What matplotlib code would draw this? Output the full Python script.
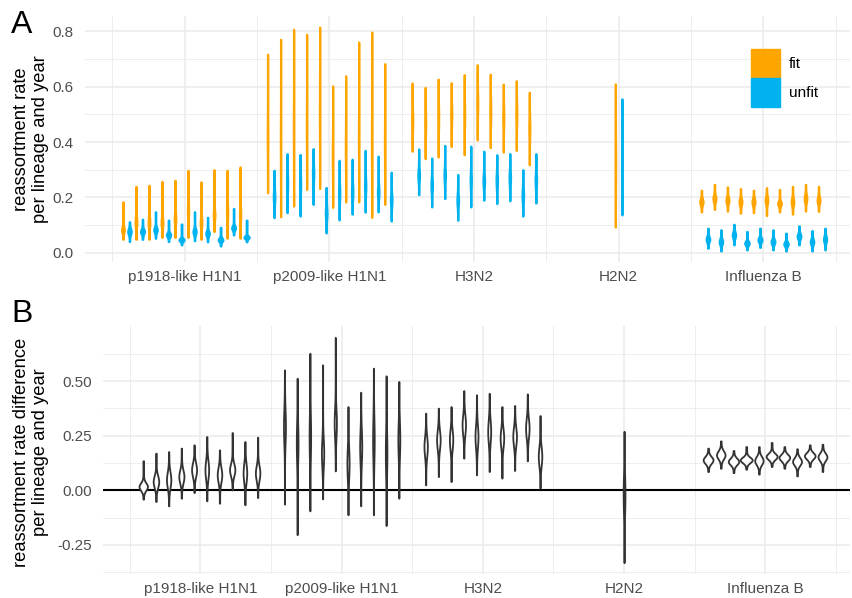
import numpy as np
import matplotlib
matplotlib.use("Agg")
import matplotlib.pyplot as plt
from matplotlib.patches import Patch
from matplotlib.ticker import FixedLocator

plt.rcParams['font.family'] = ['Liberation Sans', 'DejaVu Sans']

lineages = ["p1918-like H1N1", "p2009-like H1N1", "H3N2", "H2N2", "Influenza B"]

# Panel A: reassortment rate per run (lower end, bulk, upper end of each violin)
fit_lo = [[0.049, 0.049, 0.049, 0.056, 0.056, 0.056, 0.049, 0.077, 0.053, 0.053],
          [0.217, 0.130, 0.169, 0.229, 0.232, 0.164, 0.184, 0.184, 0.128, 0.175],
          [0.367, 0.340, 0.346, 0.384, 0.354, 0.408, 0.380, 0.364, 0.370, 0.318],
          [0.093],
          [0.148, 0.157, 0.151, 0.143, 0.145, 0.135, 0.148, 0.140, 0.151, 0.150]]
fit_mid = [[0.083, 0.110, 0.110, 0.110, 0.125, 0.154, 0.110, 0.136, 0.148, 0.140],
           [0.42, 0.40, 0.45, 0.45, 0.50, 0.35, 0.38, 0.42, 0.40, 0.40],
           [0.478, 0.470, 0.490, 0.500, 0.500, 0.538, 0.510, 0.490, 0.500, 0.450],
           [0.32],
           [0.184, 0.196, 0.190, 0.184, 0.184, 0.190, 0.178, 0.184, 0.196, 0.190]]
fit_hi = [[0.184, 0.240, 0.244, 0.258, 0.262, 0.298, 0.256, 0.300, 0.298, 0.310],
          [0.717, 0.771, 0.807, 0.789, 0.815, 0.603, 0.639, 0.761, 0.797, 0.683],
          [0.613, 0.597, 0.627, 0.614, 0.643, 0.679, 0.645, 0.609, 0.621, 0.580],
          [0.610],
          [0.226, 0.247, 0.238, 0.232, 0.226, 0.235, 0.229, 0.240, 0.247, 0.240]]

unfit_lo = [[0.041, 0.049, 0.053, 0.041, 0.029, 0.044, 0.040, 0.025, 0.065, 0.040],
            [0.127, 0.145, 0.133, 0.175, 0.072, 0.119, 0.140, 0.147, 0.148, 0.115],
            [0.210, 0.166, 0.196, 0.118, 0.166, 0.190, 0.178, 0.188, 0.133, 0.180],
            [0.137],
            [0.017, 0.007, 0.029, 0.011, 0.020, 0.011, 0.007, 0.029, 0.007, 0.011]]
unfit_mid = [[0.077, 0.077, 0.083, 0.065, 0.047, 0.077, 0.070, 0.047, 0.090, 0.056],
             [0.202, 0.250, 0.245, 0.286, 0.143, 0.215, 0.220, 0.240, 0.220, 0.190],
             [0.280, 0.244, 0.280, 0.190, 0.262, 0.260, 0.262, 0.270, 0.208, 0.262],
             [0.30],
             [0.049, 0.040, 0.065, 0.035, 0.047, 0.040, 0.032, 0.060, 0.040, 0.049]]
unfit_hi = [[0.112, 0.121, 0.148, 0.118, 0.104, 0.148, 0.128, 0.092, 0.160, 0.118],
            [0.298, 0.358, 0.355, 0.376, 0.236, 0.334, 0.338, 0.370, 0.349, 0.291],
            [0.375, 0.342, 0.388, 0.283, 0.385, 0.367, 0.354, 0.358, 0.300, 0.358],
            [0.556],
            [0.089, 0.083, 0.103, 0.077, 0.089, 0.083, 0.071, 0.097, 0.080, 0.089]]

# Panel B: difference fit - unfit
diff_lo = [[-0.040, -0.051, -0.071, -0.036, -0.010, -0.048, -0.059, 0.002, -0.066, -0.033],
           [-0.063, -0.203, -0.094, -0.039, 0.089, -0.112, -0.071, -0.112, -0.161, -0.036],
           [0.025, 0.063, 0.040, 0.147, 0.071, 0.086, 0.056, 0.091, 0.135, 0.010],
           [-0.331],
           [0.086, 0.101, 0.081, 0.097, 0.074, 0.109, 0.101, 0.066, 0.109, 0.086]]
diff_mid = [[0.017, 0.040, 0.048, 0.063, 0.094, 0.094, 0.071, 0.094, 0.079, 0.079],
            [0.292, 0.216, 0.246, 0.170, 0.307, 0.124, 0.200, 0.231, 0.170, 0.231],
            [0.200, 0.231, 0.231, 0.300, 0.246, 0.269, 0.239, 0.246, 0.284, 0.155],
            [-0.02],
            [0.139, 0.162, 0.132, 0.139, 0.136, 0.155, 0.150, 0.132, 0.158, 0.153]]
diff_hi = [[0.135, 0.170, 0.177, 0.193, 0.208, 0.246, 0.185, 0.264, 0.223, 0.243],
           [0.551, 0.513, 0.627, 0.574, 0.700, 0.383, 0.449, 0.559, 0.524, 0.498],
           [0.353, 0.376, 0.383, 0.456, 0.437, 0.444, 0.383, 0.388, 0.441, 0.342],
           [0.270],
           [0.193, 0.226, 0.182, 0.200, 0.200, 0.219, 0.200, 0.190, 0.208, 0.211]]

FIT_COL = "#FFA500"
UNFIT_COL = "#00B2EE"
GRID_COL = "#EBEBEB"
TXT_COL = "#4D4D4D"


def violin_stats(lo, mid, hi, floor):
    y = np.linspace(lo, hi, 200)
    s = 0.3 * min(mid - lo, hi - mid)
    v = np.exp(-0.5 * ((y - mid) / s) ** 2) + floor
    v = v / np.trapezoid(v, y)
    return dict(coords=y, vals=v, mean=mid, median=mid, min=lo, max=hi)


def collect(los, mids, his, offset, floor):
    stats, pos = [], []
    for k in range(len(lineages)):
        n = len(los[k])
        for g in range(n):
            stats.append(violin_stats(los[k][g], mids[k][g], his[k][g], floor))
            pos.append(k + 1 + (g - (n - 1) / 2) * 0.09 + offset)
    return stats, pos


def draw(ax, groups, maxw, styles):
    # area scaling: widest violin in the panel gets maxw
    peak = max(st["vals"].max() for stats, _ in groups for st in stats)
    for (stats, pos), (face, edge, lw) in zip(groups, styles):
        widths = [maxw * st["vals"].max() / peak for st in stats]
        parts = ax.violin(stats, positions=pos, widths=widths,
                          showmeans=False, showextrema=False, showmedians=False)
        for b in parts["bodies"]:
            b.set_facecolor(face)
            b.set_edgecolor(edge)
            b.set_linewidth(lw)
            b.set_alpha(1)
            b.set_zorder(3)


def style(ax, yminor):
    ax.set_xlim(0.31, 5.6)
    ax.set_xticks(range(1, 6))
    ax.set_xticklabels(lineages)
    ax.xaxis.set_minor_locator(FixedLocator(np.arange(0.5, 6, 1)))
    ax.yaxis.set_minor_locator(FixedLocator(yminor))
    ax.grid(which="major", color=GRID_COL, lw=1.1)
    ax.grid(which="minor", color=GRID_COL, lw=0.6)
    ax.set_axisbelow(True)
    for sp in ax.spines.values():
        sp.set_visible(False)
    ax.tick_params(which="both", length=0, labelsize=11, labelcolor=TXT_COL)
    ax.tick_params(axis="x", pad=6)
    ax.tick_params(axis="y", pad=8)


W, H = 852, 598
fig = plt.figure(figsize=(W / 100, H / 100), dpi=100)
axA = fig.add_axes([85 / W, 1 - 262 / H, (850 - 85) / W, (262 - 16) / H])
axB = fig.add_axes([103 / W, 1 - 574 / H, (850 - 103) / W, (574 - 326) / H])

# panel A
sf = collect(fit_lo, fit_mid, fit_hi, -0.0225, 0.15)
su = collect(unfit_lo, unfit_mid, unfit_hi, 0.0225, 0.15)
draw(axA, [sf, su], 0.036, [(FIT_COL, FIT_COL, 1.6), (UNFIT_COL, UNFIT_COL, 1.6)])
style(axA, [0.1, 0.3, 0.5, 0.7])
axA.set_ylim(-0.033, 0.855)
axA.set_yticks([0, 0.2, 0.4, 0.6, 0.8])
axA.set_yticklabels(["0.0", "0.2", "0.4", "0.6", "0.8"])

axA.legend(handles=[Patch(facecolor=FIT_COL, edgecolor=FIT_COL, label="fit"),
                    Patch(facecolor=UNFIT_COL, edgecolor=UNFIT_COL, label="unfit")],
           loc="upper left", bbox_to_anchor=(751 / W, 1 - 49 / H),
           bbox_transform=fig.transFigure, frameon=False, fontsize=11,
           handlelength=1.9, handleheight=2.54, labelspacing=0,
           handletextpad=0.6, borderpad=0, borderaxespad=0)

# panel B
sd = collect(diff_lo, diff_mid, diff_hi, 0.0, 0.08)
draw(axB, [sd], 0.085, [("white", "#333333", 1.3)])
axB.axhline(0, color="black", lw=1.5, zorder=2)
style(axB, [-0.375, -0.125, 0.125, 0.375, 0.625])
axB.set_ylim(-0.383, 0.752)
axB.set_yticks([-0.25, 0, 0.25, 0.5])
axB.set_yticklabels(["-0.25", "0.00", "0.25", "0.50"])

fig.text(31 / W, 1 - 139 / H, "reassortment rate\nper lineage and year",
         rotation=90, ha="center", va="center", fontsize=13.2, multialignment="center")
fig.text(31 / W, 1 - 452 / H, "reassortment rate difference\nper lineage and year",
         rotation=90, ha="center", va="center", fontsize=13.2, multialignment="center")
fig.text(11 / W, 1 - 33 / H, "A", fontsize=23, ha="left", va="baseline")
fig.text(11 / W, 1 - 322 / H, "B", fontsize=23, ha="left", va="baseline")

fig.savefig("out.png", dpi=100)
